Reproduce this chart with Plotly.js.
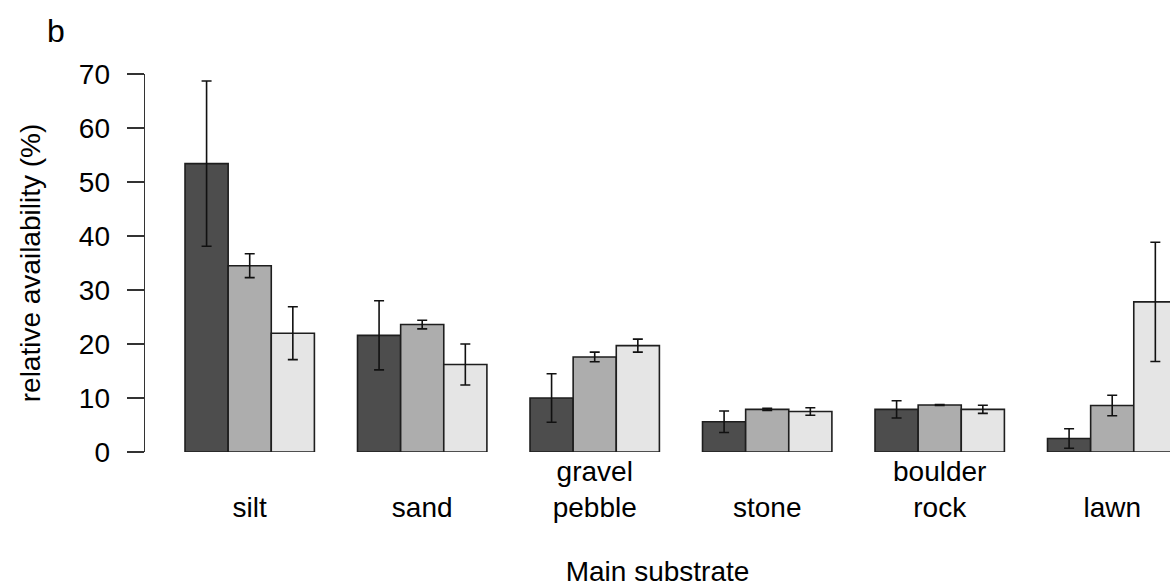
<!DOCTYPE html>
<html>
<head>
<meta charset="utf-8">
<script src="https://cdn.plot.ly/plotly-3.0.1.min.js"></script>
<style>html,body{margin:0;padding:0;background:#fff;}#chart{width:1170px;height:587px;}</style>
</head>
<body>
<div id="chart"></div>
<script>
// Categories (x tick labels)
var categories = ["silt", "sand", "gravel pebble", "stone", "boulder rock", "lawn"];
var tickLabels = [" <br>silt", " <br>sand", "gravel<br>pebble", " <br>stone", "boulder<br>rock", " <br>lawn"];

// Series values (relative availability, %)
var seriesDark  = [53.4, 21.6, 10.0, 5.6, 7.9, 2.5];
var errDark     = [15.3, 6.4, 4.5, 2.0, 1.6, 1.8];
var seriesMid   = [34.5, 23.6, 17.6, 7.9, 8.7, 8.6];
var errMid      = [2.2, 0.8, 0.9, 0.2, 0.1, 1.9];
var seriesLight = [22.0, 16.2, 19.7, 7.5, 7.9, 27.8];
var errLight    = [4.9, 3.8, 1.2, 0.7, 0.75, 11.05];

var FONT = "Liberation Sans, Arial, sans-serif";

function barTrace(vals, errs, color) {
  return {
    type: "bar",
    x: categories,
    y: vals,
    marker: {color: color, line: {color: "#1e1e1e", width: 1.6}},
    error_y: {type: "data", array: errs, visible: true, color: "#111111", thickness: 1.6, width: 5},
    hoverinfo: "y",
    showlegend: false
  };
}

var data = [
  barTrace(seriesDark, errDark, "#4d4d4d"),
  barTrace(seriesMid, errMid, "#adadad"),
  barTrace(seriesLight, errLight, "#e5e5e5")
];

var layout = {
  width: 1170,
  height: 587,
  margin: {l: 145, r: 0, t: 74, b: 135, pad: 0},
  paper_bgcolor: "#ffffff",
  plot_bgcolor: "#ffffff",
  barmode: "group",
  bargap: 0.25,
  bargroupgap: 0,
  font: {family: FONT, size: 28, color: "#000000"},
  xaxis: {
    type: "category",
    range: [-0.607, 5.335],
    tickmode: "array",
    tickvals: categories,
    ticktext: tickLabels,
    showline: false,
    showgrid: false,
    zeroline: false,
    ticks: "",
    tickfont: {family: FONT, size: 28, color: "#000"},
    ticklabelstandoff: 0,
    title: {text: "Main substrate", font: {family: FONT, size: 28, color: "#000"}, standoff: 40},
    automargin: false
  },
  yaxis: {
    range: [0, 70],
    tickvals: [0, 10, 20, 30, 40, 50, 60, 70],
    ticktext: ["0", "10", "20", "30", "40", "50", "60", "70"],
    showline: true,
    linecolor: "#333333",
    linewidth: 1.4,
    ticks: "outside",
    ticklen: 17,
    tickwidth: 1.4,
    tickcolor: "#333333",
    ticklabelstandoff: 11,
    showgrid: false,
    zeroline: false,
    tickfont: {family: FONT, size: 28, color: "#000"},
    title: {text: "relative availability (%)", font: {family: FONT, size: 28, color: "#000"}, standoff: 30},
    automargin: false
  },
  annotations: [{
    text: "b",
    xref: "paper", yref: "paper",
    x: -0.0871, y: 1.1138,
    xanchor: "center", yanchor: "middle",
    showarrow: false,
    font: {family: FONT, size: 32, color: "#000"}
  }]
};

Plotly.newPlot("chart", data, layout, {displayModeBar: false, staticPlot: true});
</script>
</body>
</html>
